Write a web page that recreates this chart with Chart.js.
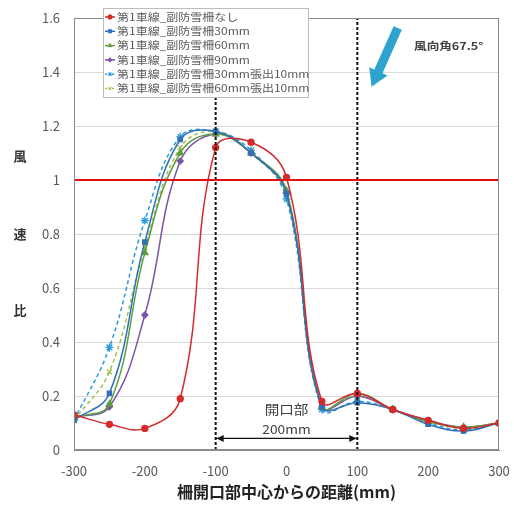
<!DOCTYPE html>
<html><head><meta charset="utf-8">
<script src="https://cdn.jsdelivr.net/npm/chart.js@4.4.1/dist/chart.umd.min.js"></script>
<style>html,body{margin:0;padding:0;background:#fff}#wrap{width:514px;height:506px}</style>
</head><body><div id="wrap"><canvas id="c" width="514" height="506"></canvas></div>
<script>
const distances = [-300,-250,-200,-150,-100,-50,0,50,100,150,200,250,300];
const seriesNames = ['第1車線_副防雪柵なし','第1車線_副防雪柵30mm','第1車線_副防雪柵60mm','第1車線_副防雪柵90mm','第1車線_副防雪柵30mm張出10mm','第1車線_副防雪柵60mm張出10mm'];
const noFence   = [0.13,0.095,0.08,0.19,1.12,1.14,1.01,0.18,0.21,0.15,0.11,0.08,0.10];
const fence30   = [0.11,0.21,0.77,1.15,1.18,1.10,0.95,0.16,0.175,0.15,0.095,0.07,0.10];
const fence60   = [0.12,0.17,0.73,1.10,1.17,1.10,0.96,0.16,0.21,0.15,0.105,0.085,0.10];
const fence90   = [0.12,0.16,0.50,1.07,1.17,1.10,0.95,0.16,0.20,0.15,0.11,0.085,0.10];
const fence30o  = [0.11,0.38,0.85,1.16,1.18,1.11,0.93,0.15,0.18,0.15,0.10,0.075,0.10];
const fence60o  = [0.11,0.29,0.75,1.12,1.18,1.10,0.94,0.16,0.20,0.15,0.11,0.08,0.10];
const refRatio = 1;
const openingEdges = [-100, 100];
const xTicks = [-300,-200,-100,0,100,200,300];
const yTitleChars = ['風','速','比'];
const xTitle = '柵開口部中心からの距離(mm)';
const openingLabel = '開口部';
const openingWidthLabel = '200mm';
const windLabel = '風向角67.5°';

const FONT = '"Noto Sans CJK JP","Noto Sans",sans-serif';
const toPts = arr => arr.map((v,i)=>({x:distances[i], y:v}));

const styles = [
  {c:'#d42b2b', p:'circle', r:3, dash:[]},
  {c:'#2f70b8', p:'rect', r:3, dash:[]},
  {c:'#5e9e3e', p:'triangle', r:3.5, dash:[]},
  {c:'#7b55a6', p:'rectRot', r:3, dash:[]},
  {c:'#2b9bd6', p:'star', r:4, dash:[4,3]},
  {c:'#a3c050', p:'crossRot', r:3.5, dash:[4,3]}
];
const values = [noFence,fence30,fence60,fence90,fence30o,fence60o];

const datasets = values.map((v,i)=>({
  label: seriesNames[i], data: toPts(v),
  borderColor: styles[i].c, backgroundColor: styles[i].c,
  pointBorderColor: styles[i].c, pointBackgroundColor: styles[i].c,
  pointStyle: styles[i].p, pointRadius: styles[i].r, pointBorderWidth: 1.3,
  borderWidth: 1.5, borderDash: styles[i].dash, tension: 0.4, order: 2
}));
datasets.push({label:'_ref', data:[{x:distances[0],y:refRatio},{x:distances[distances.length-1],y:refRatio}],
  borderColor:'#e01010', borderWidth:2, pointRadius:0, tension:0, order:1});
openingEdges.forEach(e=>datasets.push({label:'_edge', data:[{x:e,y:0},{x:e,y:1.6}],
  borderColor:'#111', borderWidth:2, borderDash:[3,2], pointRadius:0, tension:0, order:1}));
datasets.push({label:'_span', data:[{x:openingEdges[0],y:0.043},{x:openingEdges[1],y:0.043}],
  borderColor:'#111', borderWidth:1.2, pointRadius:0, tension:0, order:1});

function stretchText(ctx, text, x, y, sx, align){
  ctx.save(); ctx.translate(x,y); ctx.scale(sx,1);
  ctx.textAlign = align||'left'; ctx.fillText(text,0,0); ctx.restore();
}

const annot = {
  id:'annot',
  afterDatasetsDraw(chart){
    const {ctx, chartArea:a, scales:{x,y}} = chart;
    ctx.save();
    ctx.strokeStyle='#8a8a8a'; ctx.lineWidth=1;
    ctx.strokeRect(a.left+0.5,a.top+0.5,a.right-a.left-1,a.bottom-a.top-1);
    const ay = y.getPixelForValue(0.043);
    const lx = x.getPixelForValue(openingEdges[0]), rx = x.getPixelForValue(openingEdges[1]);
    ctx.fillStyle='#111';
    ctx.beginPath(); ctx.moveTo(lx+1,ay); ctx.lineTo(lx+8,ay-3.5); ctx.lineTo(lx+8,ay+3.5); ctx.fill();
    ctx.beginPath(); ctx.moveTo(rx-1,ay); ctx.lineTo(rx-8,ay-3.5); ctx.lineTo(rx-8,ay+3.5); ctx.fill();
    ctx.fillStyle='#404040'; ctx.textBaseline='middle';
    ctx.font='13px '+FONT;
    stretchText(ctx, openingLabel, x.getPixelForValue(0), y.getPixelForValue(0.152), 1.12, 'center');
    ctx.font='12.5px '+FONT;
    stretchText(ctx, openingWidthLabel, x.getPixelForValue(0), y.getPixelForValue(0.078), 1.1, 'center');
    const sx = x.getPixelForValue(157), sy = y.getPixelForValue(1.563);
    const ex = x.getPixelForValue(120), ey = y.getPixelForValue(1.345);
    const ang = Math.atan2(ey-sy, ex-sx);
    const len = Math.hypot(ex-sx, ey-sy);
    ctx.save(); ctx.translate(sx,sy); ctx.rotate(ang);
    ctx.fillStyle='#2ea3cf';
    const hw=4.5, hl=17, hh=10;
    ctx.beginPath();
    ctx.moveTo(0,-hw); ctx.lineTo(len-hl,-hw); ctx.lineTo(len-hl,-hh); ctx.lineTo(len,0);
    ctx.lineTo(len-hl,hh); ctx.lineTo(len-hl,hw); ctx.lineTo(0,hw); ctx.closePath(); ctx.fill();
    ctx.restore();
    ctx.fillStyle='#404040'; ctx.font='bold 10.5px '+FONT;
    stretchText(ctx, windLabel, x.getPixelForValue(229), y.getPixelForValue(1.495), 1.2, 'center');
    const bx=a.left+29, by=a.top-10, bw=205, bh=89;
    ctx.fillStyle='#fff'; ctx.fillRect(bx,by,bw,bh);
    ctx.strokeStyle='#bdbdbd'; ctx.lineWidth=1; ctx.strokeRect(bx+0.5,by+0.5,bw,bh);
    for(let i=0;i<seriesNames.length;i++){
      const ry = by+9+i*14.3;
      const st = styles[i];
      ctx.save();
      ctx.strokeStyle=st.c; ctx.fillStyle=st.c; ctx.lineWidth=1.5; ctx.setLineDash(st.dash.length?[2,1.5]:[]);
      ctx.beginPath(); ctx.moveTo(bx+2,ry); ctx.lineTo(bx+12,ry); ctx.stroke();
      ctx.setLineDash([]); ctx.lineWidth=1;
      Chart.helpers.drawPoint(ctx,{pointStyle:st.p, radius:2.2, borderWidth:1, rotation:0}, bx+7, ry);
      ctx.restore();
      ctx.fillStyle='#595959'; ctx.font='10px '+FONT; ctx.textBaseline='middle';
      stretchText(ctx, seriesNames[i], bx+14, ry, 1.2, 'left');
    }
    ctx.fillStyle='#333'; ctx.font='bold 13px '+FONT; ctx.textAlign='center';
    const yc=[1.09,0.80,0.52];
    yTitleChars.forEach((ch,i)=>ctx.fillText(ch, 20, y.getPixelForValue(yc[i])));
    ctx.restore();
  }
};

new Chart(document.getElementById('c'), {
  type:'line',
  data:{datasets},
  options:{
    responsive:false, animation:false, devicePixelRatio:1,
    layout:{padding:{left:0,right:15,top:18,bottom:4}},
    plugins:{legend:{display:false}, tooltip:{enabled:false}},
    scales:{
      x:{type:'linear', min:-300, max:300,
        afterBuildTicks(s){ s.ticks = xTicks.map(v=>({value:v})); },
        afterFit(s){ s.height=52; s.paddingLeft=0; s.paddingRight=0; },
        grid:{display:false, drawTicks:false},
        border:{display:true, color:'#8a8a8a', width:1},
        ticks:{color:'#595959', font:{size:13, family:FONT}, padding:13, maxRotation:0},
        title:{display:true, text:xTitle, color:'#222', font:{size:16, weight:'bold', family:FONT}, padding:{top:0,bottom:0}}
      },
      y:{min:0, max:1.6,
        afterFit(s){ s.width=74; s.paddingTop=0; s.paddingBottom=0; },
        grid:{color:'#d9d9d9', drawTicks:false},
        border:{display:true, color:'#8a8a8a', width:1},
        ticks:{stepSize:0.2, color:'#595959', font:{size:13, family:FONT}, padding:14,
          callback:v=>String(Number(v.toFixed(1)))}
      }
    }
  },
  plugins:[annot]
});
</script>
</body></html>
